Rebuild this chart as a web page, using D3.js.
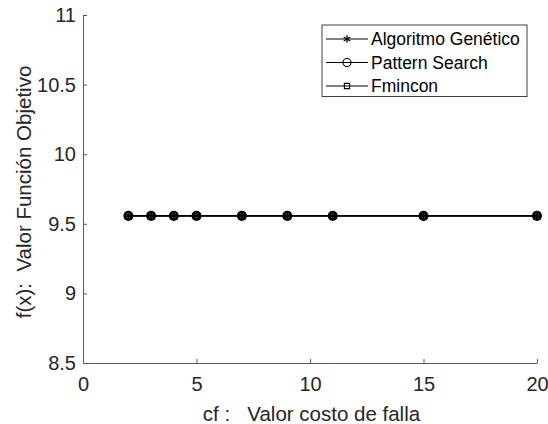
<!DOCTYPE html>
<html>
<head>
<meta charset="utf-8">
<script src="https://cdn.jsdelivr.net/npm/d3@7"></script>
<style>
  html, body { margin: 0; padding: 0; background: #fff; }
  svg { display: block; font-family: "Liberation Sans", Arial, sans-serif; }
  text { white-space: pre; }
</style>
</head>
<body>
<svg id="chart" width="548" height="424"></svg>
<script>
// Failure cost values (x) and objective function results for each solver
const cfValues = [2, 3, 4, 5, 7, 9, 11, 15, 20];
const gaValues = [9.557, 9.557, 9.557, 9.557, 9.557, 9.557, 9.557, 9.557, 9.557];
const psValues = [9.557, 9.557, 9.557, 9.557, 9.557, 9.557, 9.557, 9.557, 9.557];
const fminconValues = [9.557, 9.557, 9.557, 9.557, 9.557, 9.557, 9.557, 9.557, 9.557];

const xTicks = [0, 5, 10, 15, 20];
const yTicks = [8.5, 9, 9.5, 10, 10.5, 11];
const seriesNames = ["Algoritmo Genético", "Pattern Search", "Fmincon"];

const svg = d3.select("#chart");
const margin = { left: 83, right: 11, top: 15, bottom: 61 };
const W = 548, H = 424;
const axisColor = "#262626";
const axisLineColor = "#5a5a5a";

const x = d3.scaleLinear().domain([0, 20]).range([margin.left, W - margin.right]);
const y = d3.scaleLinear().domain([8.5, 11]).range([H - margin.bottom, margin.top]);

// Axes with inward ticks
const gx = svg.append("g")
  .attr("transform", `translate(0,${H - margin.bottom})`)
  .call(d3.axisBottom(x).tickValues(xTicks).tickFormat(d3.format("")).tickSizeInner(-4).tickSizeOuter(0).tickPadding(13.5));
const gy = svg.append("g")
  .attr("transform", `translate(${margin.left},0)`)
  .call(d3.axisLeft(y).tickValues(yTicks).tickFormat(d3.format("")).tickSizeInner(-4).tickSizeOuter(0).tickPadding(7));

[gx, gy].forEach(g => {
  g.selectAll("path.domain").attr("stroke", axisLineColor).attr("stroke-width", 1);
  g.selectAll(".tick line").attr("stroke", axisLineColor).attr("stroke-width", 1);
  g.selectAll(".tick text").attr("fill", axisColor)
    .style("font-size", "20px").style("font-family", "Liberation Sans, Arial, sans-serif");
});

// Axis labels
svg.append("text")
  .attr("x", 311.5)
  .attr("y", 421)
  .attr("text-anchor", "middle")
  .attr("fill", axisColor)
  .style("font-size", "20.5px")
  .text("cf :   Valor costo de falla");

svg.append("text")
  .attr("transform", `translate(31,192) rotate(-90)`)
  .attr("text-anchor", "middle")
  .attr("fill", axisColor)
  .style("font-size", "20.5px")
  .text("f(x):  Valor Función Objetivo");

// Marker drawers
const asterisk = d3.symbol().type(d3.symbolAsterisk).size(40);
const square = d3.symbol().type(d3.symbolSquare).size(34);

function drawMarker(g, kind, cx, cy) {
  if (kind === 0) {
    g.append("path").attr("d", asterisk()).attr("transform", `translate(${cx},${cy})`)
      .attr("fill", "none").attr("stroke", "#000").attr("stroke-width", 1.6);
  } else if (kind === 1) {
    g.append("circle").attr("cx", cx).attr("cy", cy).attr("r", 4.2)
      .attr("fill", "none").attr("stroke", "#000").attr("stroke-width", 1.7);
  } else {
    g.append("path").attr("d", square()).attr("transform", `translate(${cx},${cy})`)
      .attr("fill", "none").attr("stroke", "#000").attr("stroke-width", 1.6);
  }
}

function drawLegendMarker(g, kind, cx, cy) {
  if (kind === 0) {
    g.append("path").attr("d", asterisk()).attr("transform", `translate(${cx},${cy})`)
      .attr("fill", "none").attr("stroke", "#000").attr("stroke-width", 1.2);
  } else if (kind === 1) {
    g.append("circle").attr("cx", cx).attr("cy", cy).attr("r", 4)
      .attr("fill", "none").attr("stroke", "#000").attr("stroke-width", 1.1);
  } else {
    g.append("path").attr("d", d3.symbol().type(d3.symbolSquare).size(28)()).attr("transform", `translate(${cx},${cy})`)
      .attr("fill", "none").attr("stroke", "#000").attr("stroke-width", 1.1);
  }
}

const line = d3.line().x((d, i) => x(cfValues[i])).y(d => y(d));
const allSeries = [gaValues, psValues, fminconValues];

allSeries.forEach((vals, k) => {
  const g = svg.append("g");
  g.append("path").datum(vals).attr("d", line)
    .attr("fill", "none").attr("stroke", "#000").attr("stroke-width", 1.3);
  vals.forEach((v, i) => drawMarker(g, k, x(cfValues[i]), y(v)));
});

// Legend
const legend = svg.append("g");
legend.append("rect")
  .attr("x", 322).attr("y", 25).attr("width", 205).attr("height", 71.5)
  .attr("fill", "#fff").attr("stroke", "#404040").attr("stroke-width", 1);

const rowY = [39, 62.5, 86];
seriesNames.forEach((name, k) => {
  const ry = rowY[k];
  legend.append("line").attr("x1", 326).attr("x2", 368).attr("y1", ry).attr("y2", ry)
    .attr("stroke", "#000").attr("stroke-width", 1.2);
  drawLegendMarker(legend, k, 347, ry);
  legend.append("text").attr("x", 371).attr("y", ry).attr("dy", "0.36em")
    .attr("fill", "#000").style("font-size", "17.5px").text(name);
});
</script>
</body>
</html>
